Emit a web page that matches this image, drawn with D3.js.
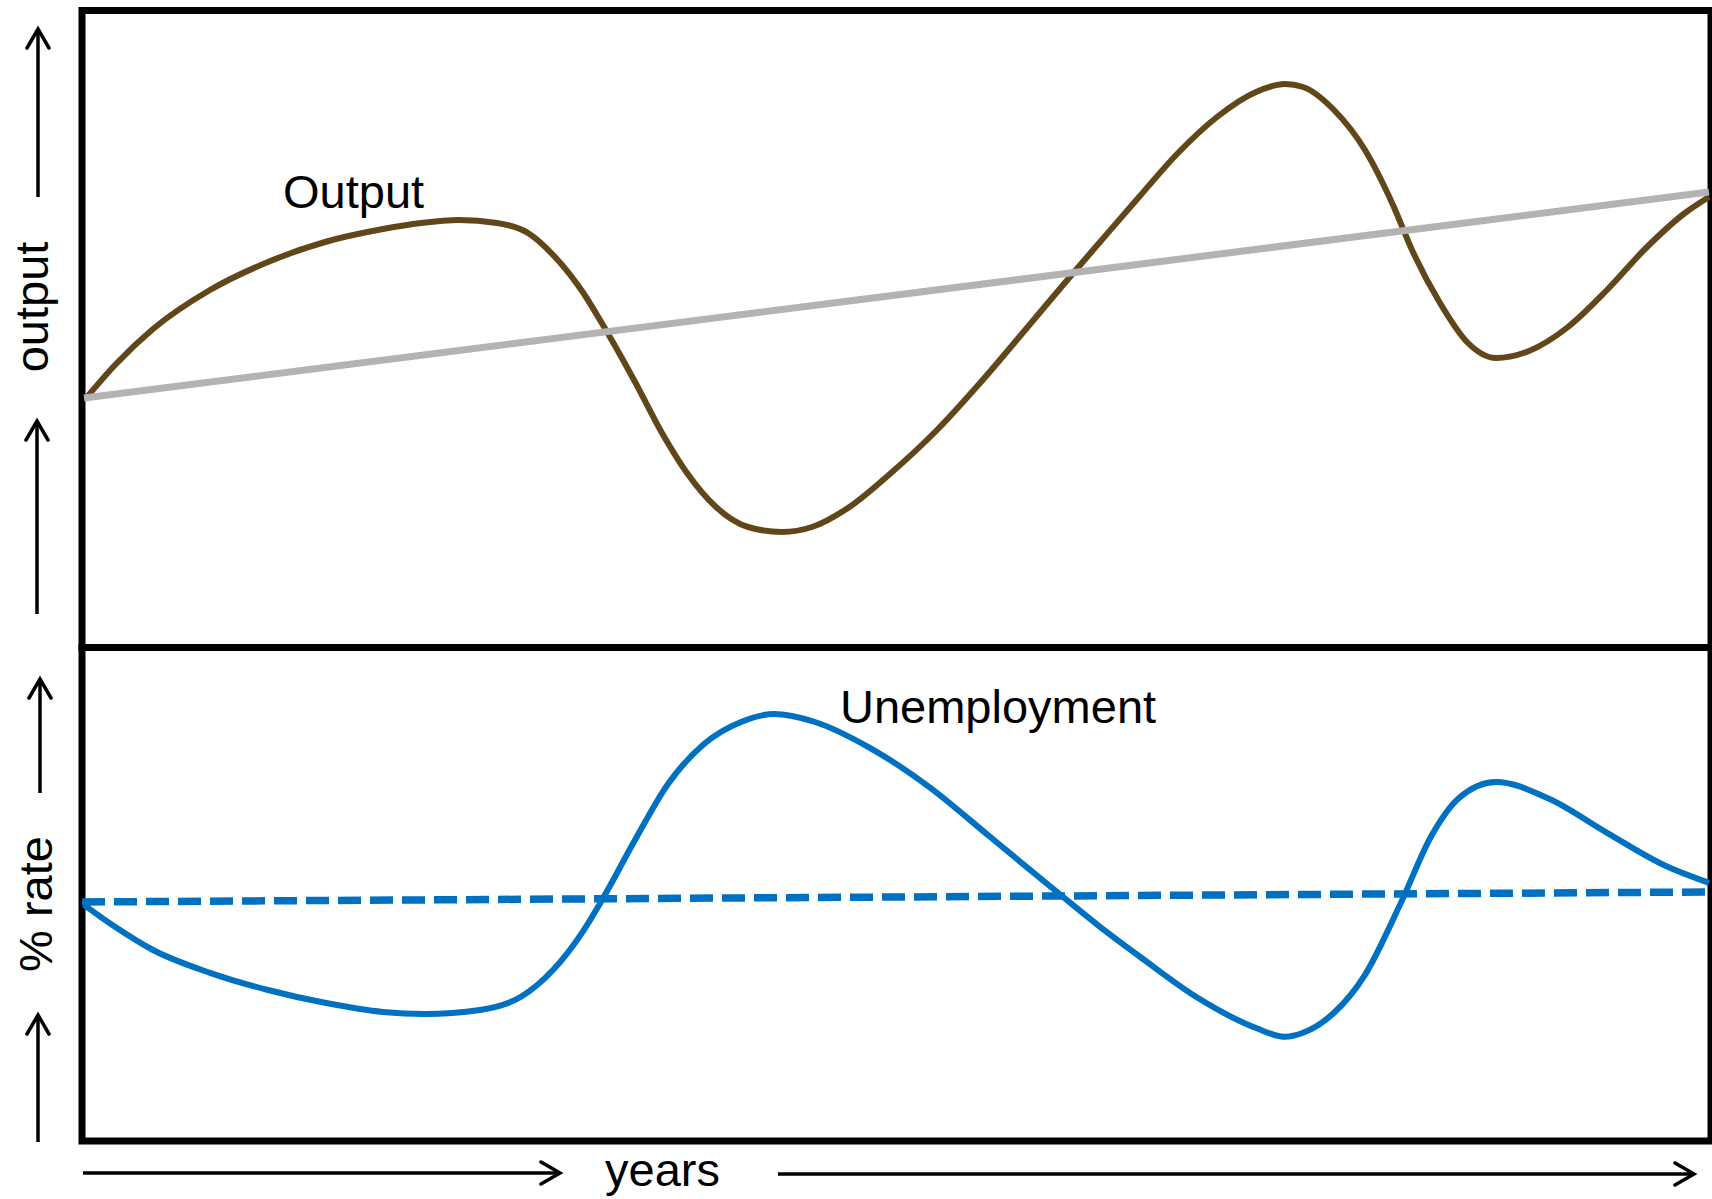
<!DOCTYPE html>
<html>
<head>
<meta charset="utf-8">
<script src="https://cdn.jsdelivr.net/npm/d3@7"></script>
<style>
  body { margin: 0; background: #fff; }
  svg { display: block; }
  text { font-family: "Liberation Sans", Arial, sans-serif; fill: #000; }
</style>
</head>
<body>
<div id="chart-area"></div>
<script>

// years run 0..65 along the bottom (no real units on the sketch)
var outputYears = [0.12, 1.24, 2.76, 5.04, 7.36, 9.64, 11.96, 13.48, 15.0, 16.52, 17.76, 18.84,
  19.92, 20.92, 22.0, 23.12, 24.12, 25.28, 26.56, 27.92, 29.12, 30.56, 32.28, 34.12, 35.84,
  37.68, 39.4, 40.64, 42.2, 43.76, 45.32, 46.88, 48.04, 48.76, 50.0, 51.24, 52.36, 53.12,
  54.24, 55.32, 56.48, 57.8, 59.36, 60.92, 62.48, 64.04, 65.0];
var outputValues = [25.3, 28.5, 32.1, 36.0, 38.8, 40.8, 42.1, 42.7, 43.0, 42.7, 41.7, 39.3,
  35.9, 31.8, 27.0, 21.7, 17.7, 14.3, 12.3, 11.8, 12.3, 14.2, 17.7, 22.0, 26.7,
  32.1, 37.2, 40.8, 45.3, 49.7, 53.3, 55.8, 56.6, 56.3, 54.0, 50.0, 44.5, 40.0,
  34.7, 30.8, 29.2, 29.9, 32.3, 36.0, 40.2, 43.7, 45.3];

// long run trend of output
var trendYears = [0, 65];
var trendValues = [25.2, 45.8];

// unemployment rate, %
var unempYears = [0, 1.24, 2.76, 5.04, 7.36, 9.64, 11.96, 13.64, 15.84, 17.48, 18.76, 19.92,
  20.72, 22.04, 23.36, 24.8, 26.28, 27.6, 29.24, 31.36, 33.8, 36.24, 38.96, 40.64, 42.2,
  44.56, 46.88, 48.04, 48.76, 50.0, 51.24, 52.64, 53.92, 55.0, 56.48, 58.6, 60.92, 63.28, 65.0];
var unempValues = [5.88, 5.33, 4.75, 4.18, 3.75, 3.43, 3.2, 3.15, 3.25, 3.58, 4.25, 5.18,
  6.0, 7.5, 8.9, 9.9, 10.45, 10.65, 10.45, 9.83, 8.83, 7.58, 6.18, 5.33, 4.6,
  3.55, 2.8, 2.58, 2.68, 3.18, 4.13, 5.88, 7.63, 8.55, 8.95, 8.53, 7.68, 6.85, 6.43];

// natural rate of unemployment
var naturalYears = [0, 65];
var naturalValues = [5.95, 6.2];

var labels = { output: "Output", unemp: "Unemployment", years: "years", yTop: "output", yBottom: "% rate" };

function zip(xs, ys) {
  return xs.map(function(d, i) { return { year: d, value: ys[i] }; });
}

var svg = d3.select("#chart-area").append("svg")
  .attr("width", 1712)
  .attr("height", 1199);

var x = d3.scaleLinear().domain([0, 65]).range([84, 1709]);
var yOut = d3.scaleLinear().domain([0, 64]).range([650, 10]);
var yUn = d3.scaleLinear().domain([0, 12]).range([1140, 660]);

// arrow heads
var defs = svg.append("defs");
defs.append("marker")
  .attr("id", "head")
  .attr("viewBox", "-22 -13 26 26")
  .attr("markerWidth", 26)
  .attr("markerHeight", 26)
  .attr("markerUnits", "userSpaceOnUse")
  .attr("orient", "auto")
  .append("path")
  .attr("d", "M-19,-11 L0,0 L-19,11")
  .attr("fill", "none")
  .attr("stroke", "#000")
  .attr("stroke-width", 3.5)
  .attr("stroke-linecap", "round")
  .attr("stroke-linejoin", "miter");

// frames of the two panels
var frame = svg.append("g")
  .attr("fill", "none")
  .attr("stroke", "#000")
  .attr("stroke-width", 7);

frame.append("rect")
  .attr("x", 82)
  .attr("y", 10.5)
  .attr("width", 1629)
  .attr("height", 637);

frame.append("rect")
  .attr("x", 82)
  .attr("y", 647.5)
  .attr("width", 1629)
  .attr("height", 493.5);

// side and bottom arrows
var arrows = [
  { x1: 38, y1: 197, x2: 38, y2: 29 },
  { x1: 37, y1: 614, x2: 37, y2: 421 },
  { x1: 40, y1: 793, x2: 40, y2: 679 },
  { x1: 38, y1: 1142, x2: 38, y2: 1015 },
  { x1: 83, y1: 1173, x2: 560, y2: 1173 },
  { x1: 778, y1: 1174, x2: 1694, y2: 1174 }
];

svg.append("g").selectAll("line")
  .data(arrows)
  .enter().append("line")
  .attr("x1", function(d) { return d.x1; })
  .attr("y1", function(d) { return d.y1; })
  .attr("x2", function(d) { return d.x2; })
  .attr("y2", function(d) { return d.y2; })
  .attr("stroke", "#000")
  .attr("stroke-width", 3.5)
  .attr("marker-end", "url(#head)");

// curves
var lineOut = d3.line()
  .x(function(d) { return x(d.year); })
  .y(function(d) { return yOut(d.value); })
  .curve(d3.curveMonotoneX);

var lineUn = d3.line()
  .x(function(d) { return x(d.year); })
  .y(function(d) { return yUn(d.value); })
  .curve(d3.curveMonotoneX);

svg.append("path")
  .datum(zip(outputYears, outputValues))
  .attr("d", lineOut)
  .attr("fill", "none")
  .attr("stroke", "#614619")
  .attr("stroke-width", 6);

svg.append("path")
  .datum(zip(trendYears, trendValues))
  .attr("d", lineOut)
  .attr("fill", "none")
  .attr("stroke", "#b3b3b3")
  .attr("stroke-width", 7);

svg.append("path")
  .datum(zip(unempYears, unempValues))
  .attr("d", lineUn)
  .attr("fill", "none")
  .attr("stroke", "#0070c0")
  .attr("stroke-width", 6);

svg.append("path")
  .datum(zip(naturalYears, naturalValues))
  .attr("d", lineUn)
  .attr("fill", "none")
  .attr("stroke", "#0070c0")
  .attr("stroke-width", 7.5)
  .attr("stroke-dasharray", "23,9")
  .attr("transform", "translate(-2,0)");

// labels
svg.append("text")
  .attr("x", 283)
  .attr("y", 208)
  .style("font-size", "47px")
  .text(labels.output);

svg.append("text")
  .attr("x", 840)
  .attr("y", 723)
  .style("font-size", "47px")
  .text(labels.unemp);

svg.append("text")
  .attr("x", 605)
  .attr("y", 1186)
  .style("font-size", "47px")
  .text(labels.years);

svg.append("text")
  .attr("transform", "translate(48,307) rotate(-90)")
  .attr("text-anchor", "middle")
  .style("font-size", "47px")
  .text(labels.yTop);

svg.append("text")
  .attr("transform", "translate(52,904) rotate(-90)")
  .attr("text-anchor", "middle")
  .style("font-size", "47px")
  .text(labels.yBottom);

</script>
</body>
</html>
